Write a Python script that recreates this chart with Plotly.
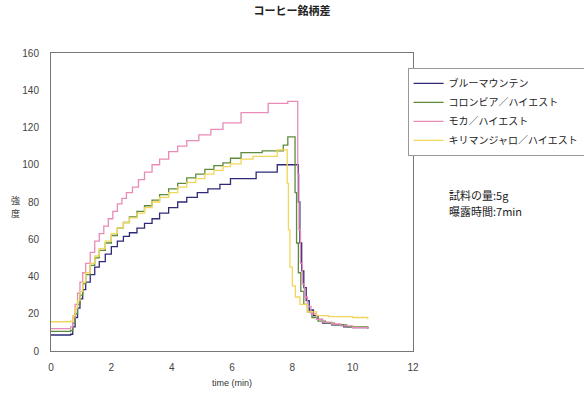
import plotly.graph_objects as go

# ---- data ----
series_names = ["ブルーマウンテン", "コロンビア／ハイエスト", "モカ／ハイエスト", "キリマンジャロ／ハイエスト"]

t_blue = [0, 0.65, 0.72, 0.8, 0.88, 0.96, 1.05, 1.15, 1.3, 1.45, 1.6, 1.8, 2.0, 2.2, 2.4, 2.6, 2.85, 3.1, 3.35,
          3.6, 3.9, 4.2, 4.5, 4.85, 5.2, 5.6, 5.95, 6.8, 7.5, 8.15, 8.2, 8.25, 8.31, 8.38, 8.46, 8.56, 8.7,
          8.85, 9.0, 9.3, 9.7, 10.0, 10.5]
v_blue = [8.6, 9, 13, 18, 23, 28, 33, 37, 41, 45, 48, 52, 56, 59, 61.5, 63.5, 66, 68.5, 71,
          74, 77, 80, 82.5, 85, 87, 89.5, 92.5, 96, 100, 100, 80, 58, 43, 34, 27, 22, 19,
          17, 15, 14, 13, 12.5, 12]

t_green = [0, 0.65, 0.72, 0.8, 0.88, 0.96, 1.05, 1.15, 1.3, 1.45, 1.6, 1.8, 2.0, 2.2, 2.4, 2.6, 2.85, 3.1, 3.35,
           3.6, 3.9, 4.2, 4.5, 4.8, 5.1, 5.4, 5.7, 5.95, 6.3, 7.0, 7.7, 7.85, 8.05, 8.09, 8.14, 8.2, 8.28,
           8.38, 8.5, 8.65, 8.85, 9.1, 9.4, 9.8, 10.5]
v_green = [10.5, 11, 15, 20, 25, 30, 36, 41, 46, 50, 54, 58, 62, 66, 69, 72, 75, 78, 81,
           84, 87, 90, 93, 95, 97.5, 99.5, 101, 103.5, 106.5, 107.5, 110.5, 115, 115, 85, 58, 42, 32,
           25, 21, 18, 16, 15, 14, 13, 12.5]

t_pink = [0, 0.65, 0.72, 0.8, 0.88, 0.96, 1.05, 1.15, 1.3, 1.45, 1.6, 1.75, 1.9, 2.05, 2.2, 2.35, 2.5, 2.7, 2.9,
          3.1, 3.35, 3.6, 3.9, 4.2, 4.5, 4.9, 5.3, 5.7, 6.3, 7.2, 7.85, 8.15, 8.18, 8.22, 8.27, 8.33,
          8.4, 8.5, 8.62, 8.8, 9.0, 9.3, 9.6, 10.0, 10.5]
v_pink = [12, 13, 18, 25, 31, 37, 42, 47, 53, 59, 63, 67, 71, 75, 79, 82, 85, 88, 92,
          96, 100, 103, 107, 110, 113, 116, 119, 122.5, 128, 133, 134, 134, 95, 65, 47, 36,
          29, 24, 20, 17, 15.5, 14.5, 13.5, 12.5, 12]

t_yellow = [0, 0.65, 0.72, 0.8, 0.88, 0.96, 1.05, 1.15, 1.3, 1.45, 1.6, 1.8, 2.0, 2.2, 2.4, 2.6, 2.85, 3.1, 3.35,
            3.6, 3.9, 4.2, 4.5, 4.8, 5.1, 5.4, 5.7, 5.95, 6.3, 6.7, 7.5, 7.8, 7.83, 7.87, 7.92, 8.0,
            8.1, 8.25, 8.5, 8.8, 9.2, 10.0, 10.5]
v_yellow = [15.7, 16, 19, 23, 27, 32, 37, 42, 47, 51, 55, 59, 63, 66, 69, 71.5, 74, 77, 80,
            82.5, 85, 88, 90.5, 92.5, 95, 97, 99, 100.5, 103, 104.5, 108, 108, 90, 65, 45, 35,
            29, 25, 21, 19, 18.5, 18, 17]

x_ticks = [0, 2, 4, 6, 8, 10, 12]
y_ticks = [0, 20, 40, 60, 80, 100, 120, 140, 160]

colors = ["#2e2a78", "#5f8c3c", "#e98bb8", "#f2d65a"]

JP = "Noto Sans CJK JP, Noto Sans, sans-serif"
NUM = "Liberation Sans, Arial, sans-serif"

fig = go.Figure()
for name, t, v, c in zip(series_names,
                         [t_blue, t_green, t_pink, t_yellow],
                         [v_blue, v_green, v_pink, v_yellow],
                         colors):
    fig.add_trace(go.Scatter(x=t, y=v, name=name, mode="lines",
                             line=dict(color=c, width=1.3, shape="hv")))

fig.update_layout(
    width=584, height=394,
    margin=dict(l=51, r=171, t=53, b=43, autoexpand=False),
    paper_bgcolor="white", plot_bgcolor="white",
    font=dict(family=JP, size=10, color="#333333"),
    title=dict(text="<b>コーヒー銘柄差</b>", x=0.5, xanchor="center",
               yref="container", y=0.972, yanchor="middle",
               font=dict(family=JP, size=11, color="#222222")),
    showlegend=True,
    legend=dict(x=0.985, xanchor="left", y=0.95, yanchor="top",
                bgcolor="white", bordercolor="#999999", borderwidth=1,
                font=dict(family=JP, size=10, color="#222222"),
                itemwidth=30, tracegroupgap=0),
)
fig.update_xaxes(range=[0, 12], tickvals=x_ticks, showgrid=False, zeroline=False,
                 showline=True, linecolor="#777777", linewidth=1, mirror=True,
                 ticks="", ticklabelstandoff=7, tickfont=dict(family=NUM, size=10, color="#444444"),
                 title=dict(text="time (min)", font=dict(family=NUM, size=9, color="#333333"), standoff=7))
fig.update_yaxes(range=[0, 160], tickvals=y_ticks, showgrid=False, zeroline=False,
                 showline=True, linecolor="#777777", linewidth=1, mirror=True,
                 ticks="", ticklabelstandoff=9, tickfont=dict(family=NUM, size=10, color="#444444"))

fig.add_annotation(text="強", xref="paper", yref="paper", x=-0.098, y=0.505,
                   showarrow=False, font=dict(family=JP, size=9, color="#333333"),
                   xanchor="center", yanchor="middle")
fig.add_annotation(text="度", xref="paper", yref="paper", x=-0.098, y=0.46,
                   showarrow=False, font=dict(family=JP, size=9, color="#333333"),
                   xanchor="center", yanchor="middle")
fig.add_annotation(text="試料の量:5g", xref="paper", yref="paper",
                   x=1.095, y=0.523, xanchor="left", yanchor="middle", align="left", showarrow=False,
                   font=dict(family=JP, size=11, color="#222222"))
fig.add_annotation(text="曝露時間:7min", xref="paper", yref="paper",
                   x=1.095, y=0.47, xanchor="left", yanchor="middle", align="left", showarrow=False,
                   font=dict(family=JP, size=11, color="#222222"))

fig.write_html("out.html", config={"displayModeBar": False},
               post_script="document.body.style.margin='0';")
